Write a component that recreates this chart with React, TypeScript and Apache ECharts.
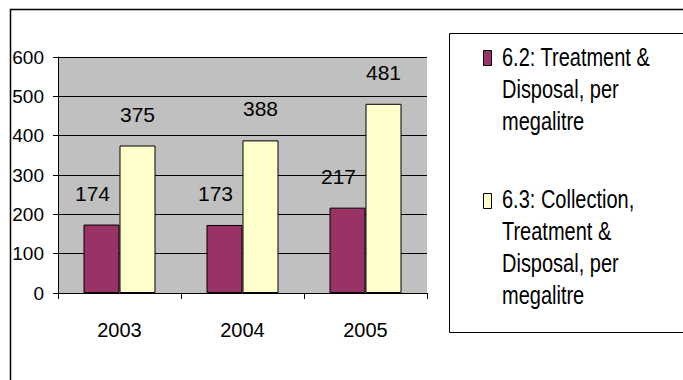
import React, { useEffect, useRef } from 'react';
import * as echarts from 'echarts';

const categories = ['2003', '2004', '2005'];
const seriesNames = [
  '6.2: Treatment & Disposal, per megalitre',
  '6.3: Collection, Treatment & Disposal, per megalitre',
];
const legendLabels = [
  '6.2: Treatment &\nDisposal, per\nmegalitre',
  '6.3: Collection,\nTreatment &\nDisposal, per\nmegalitre',
];
const treatmentDisposal = [174, 173, 217];
const collectionTreatmentDisposal = [375, 388, 481];
const yMin = 0;
const yMax = 600;
const yStep = 100;
const seriesColors = ['#993366', '#FFFFCC'];

const FONT = '"Liberation Sans", Arial, sans-serif';

export default function App() {
  const ref = useRef<HTMLDivElement>(null);
  useEffect(() => {
    if (!ref.current) return;
    const chart = echarts.init(ref.current, undefined, { renderer: 'svg' });
    const legendTops = [42, 184];
    const iconTops = [50, 193];
    chart.setOption({
      animation: false,
      backgroundColor: '#FFFFFF',
      textStyle: { fontFamily: FONT },
      grid: {
        left: 58,
        top: 57,
        width: 369,
        height: 236,
        show: true,
        backgroundColor: '#C0C0C0',
        borderWidth: 0,
      },
      xAxis: {
        type: 'category',
        data: categories,
        boundaryGap: true,
        axisLine: { show: true, lineStyle: { color: '#000', width: 1 } },
        axisTick: { show: true, length: 6, alignWithLabel: false, lineStyle: { color: '#000' } },
        axisLabel: { margin: 27, fontSize: 20, color: '#000', fontFamily: FONT },
        splitLine: { show: false },
      },
      yAxis: {
        type: 'value',
        min: yMin,
        max: yMax,
        interval: yStep,
        axisLine: { show: true, lineStyle: { color: '#000', width: 1 } },
        axisTick: { show: true, length: 5, lineStyle: { color: '#000' } },
        axisLabel: { margin: 14, fontSize: 19, color: '#000', fontFamily: FONT },
        splitLine: { show: true, lineStyle: { color: '#000', width: 1 } },
      },
      series: [
        {
          name: seriesNames[0],
          type: 'bar',
          data: treatmentDisposal,
          barWidth: 36,
          barGap: '0%',
          itemStyle: { color: seriesColors[0], borderColor: '#000', borderWidth: 1 },
          label: {
            show: true,
            position: 'top',
            distance: 21,
            offset: [-9, 0],
            fontSize: 21,
            color: '#000',
            fontFamily: FONT,
          },
        },
        {
          name: seriesNames[1],
          type: 'bar',
          data: collectionTreatmentDisposal,
          barWidth: 36,
          barGap: '0%',
          itemStyle: { color: seriesColors[1], borderColor: '#000', borderWidth: 1 },
          label: {
            show: true,
            position: 'top',
            distance: 21,
            fontSize: 21,
            color: '#000',
            fontFamily: FONT,
          },
        },
      ],
      graphic: [
        {
          type: 'rect',
          shape: { x: 10.5, y: 9.5, width: 800, height: 500 },
          style: { fill: 'none', stroke: '#000', lineWidth: 1.5 },
          silent: true,
        },
        {
          type: 'rect',
          shape: { x: 449.5, y: 33.5, width: 300, height: 299 },
          style: { fill: '#FFFFFF', stroke: '#000', lineWidth: 1 },
          silent: true,
        },
        ...legendLabels.flatMap((lbl, i) => [
          {
            type: 'rect',
            shape: { x: 483.5, y: iconTops[i] + 0.5, width: 8, height: 15 },
            style: { fill: seriesColors[i], stroke: '#000', lineWidth: 1 },
            silent: true,
          },
          {
            type: 'text',
            x: 502,
            y: legendTops[i],
            scaleX: 0.8,
            style: {
              text: lbl,
              fontSize: 25,
              lineHeight: 32,
              fontFamily: FONT,
              fill: '#000',
              textAlign: 'left',
              textVerticalAlign: 'top',
            },
            silent: true,
          },
        ]),
      ],
    });
    return () => chart.dispose();
  }, []);
  return (
    <div
      ref={ref}
      style={{ position: 'absolute', left: 0, top: 0, width: 683, height: 380 }}
    />
  );
}
